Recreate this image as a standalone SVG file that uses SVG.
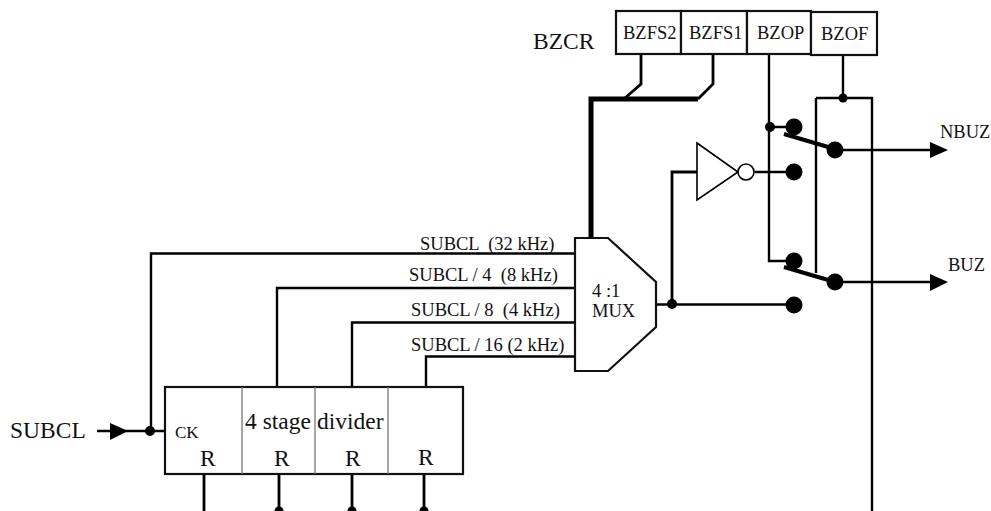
<svg xmlns="http://www.w3.org/2000/svg" width="991" height="511" viewBox="0 0 991 511">
<style>
text{font-family:"Liberation Serif","Times New Roman",serif;fill:#111}
.s{font-size:18.5px}.l{font-size:23.5px}.c{font-size:17px}
.w{fill:none;stroke:#000;stroke-width:2.4}
.t{fill:none;stroke:#000;stroke-width:2.8}
.h{fill:none;stroke:#000;stroke-width:5}
.m{fill:none;stroke:#000;stroke-width:4}
.box{fill:#fff;stroke:#111;stroke-width:2.200}
.g{stroke:#777;stroke-width:1.300;fill:none}
.d{fill:#000}
</style>
<rect width="991" height="511" fill="#fff"/>
<g id="connectors">
<path class="t" d="M641 55V84L625 98M713 55V84L698 99"/>
<path class="h" d="M698 99H591V240"/>
<path class="w" d="M769 55V261H794M770 127H794M755 172H794M816 98V273M816 98H872V511M843 55V98"/>
<path class="t" d="M672 304V172H697"/>
<path class="w" d="M656 304.500H794M835 150H930M835 282H930"/>
<path class="m" d="M784 134L835 149M784 267L835 282"/>
<path class="w" d="M575 253.500H151V431M575 288H277V387M575 322.500H352V387M575 356.500H426V387M97 431H165"/>
<path class="t" d="M204 474V511M279 474V511M352 474V511M424 474V511"/>
<path class="d" d="M930 142L948 150L930 158ZM930 274L948 282L930 291ZM110 423L128 431L110 440Z"/>
<circle class="d" cx="843" cy="98" r="4.500"/><circle class="d" cx="770" cy="127" r="5"/>
<circle class="d" cx="672" cy="304" r="5"/><circle class="d" cx="150" cy="431" r="5"/>
<circle class="d" cx="279" cy="511" r="4.500"/><circle class="d" cx="352" cy="511" r="4.500"/><circle class="d" cx="424" cy="511" r="4.500"/>
<circle class="d" cx="794" cy="127" r="8.500"/><circle class="d" cx="794" cy="172" r="8.500"/>
<circle class="d" cx="794" cy="261" r="8.500"/><circle class="d" cx="794" cy="305" r="8.500"/>
<circle class="d" cx="835" cy="150" r="8.500"/><circle class="d" cx="835" cy="282" r="8.500"/>
</g>
<text x="533" y="49" class="l">BZCR</text>
<g id="bzfs2"><rect class="box" x="616" y="11" width="65" height="43"/><text x="623" y="39" class="s">BZFS2</text></g>
<g id="bzfs1"><rect class="box" x="681" y="11" width="66" height="43"/><text x="689" y="39" class="s">BZFS1</text></g>
<g id="bzop"><rect class="box" x="747" y="11" width="64" height="43"/><text x="757" y="39" class="s">BZOP</text></g>
<g id="bzof"><rect class="box" x="811" y="12" width="66" height="43"/><text x="821" y="40" class="s">BZOF</text></g>
<g id="inverter"><path d="M697 143L738 172L697 200Z" fill="#fff" stroke="#000" stroke-width="1.600"/><circle cx="746" cy="172" r="8" fill="#fff" stroke="#000" stroke-width="1.600"/></g>
<g id="mux"><path class="box" d="M575 238H608L656 282V327L608 371H575Z"/><text x="592" y="297" class="s">4 :1</text><text x="592" y="317" class="s">MUX</text></g>
<g id="divider"><rect class="box" x="165" y="387" width="298" height="87"/>
<path class="g" d="M242 387V474M315 387V474M388 387V474"/>
<text x="175" y="438" class="c">CK</text>
<text x="245" y="429" class="l">4 stage</text><text x="317" y="429" class="l">divider</text>
<text x="200" y="466" class="l">R</text><text x="274" y="466" class="l">R</text><text x="345" y="466" class="l">R</text><text x="418" y="465" class="l">R</text></g>
<text x="10" y="438" class="l">SUBCL</text>
<text x="420" y="250" class="s" xml:space="preserve">SUBCL  (32 kHz)</text>
<text x="409" y="281" class="s" xml:space="preserve">SUBCL / 4  (8 kHz)</text>
<text x="411" y="316" class="s" xml:space="preserve">SUBCL / 8  (4 kHz)</text>
<text x="411" y="351" class="s">SUBCL / 16 (2 kHz)</text>
<text x="940" y="138" class="s">NBUZ</text>
<text x="948" y="271" class="s">BUZ</text>
</svg>
